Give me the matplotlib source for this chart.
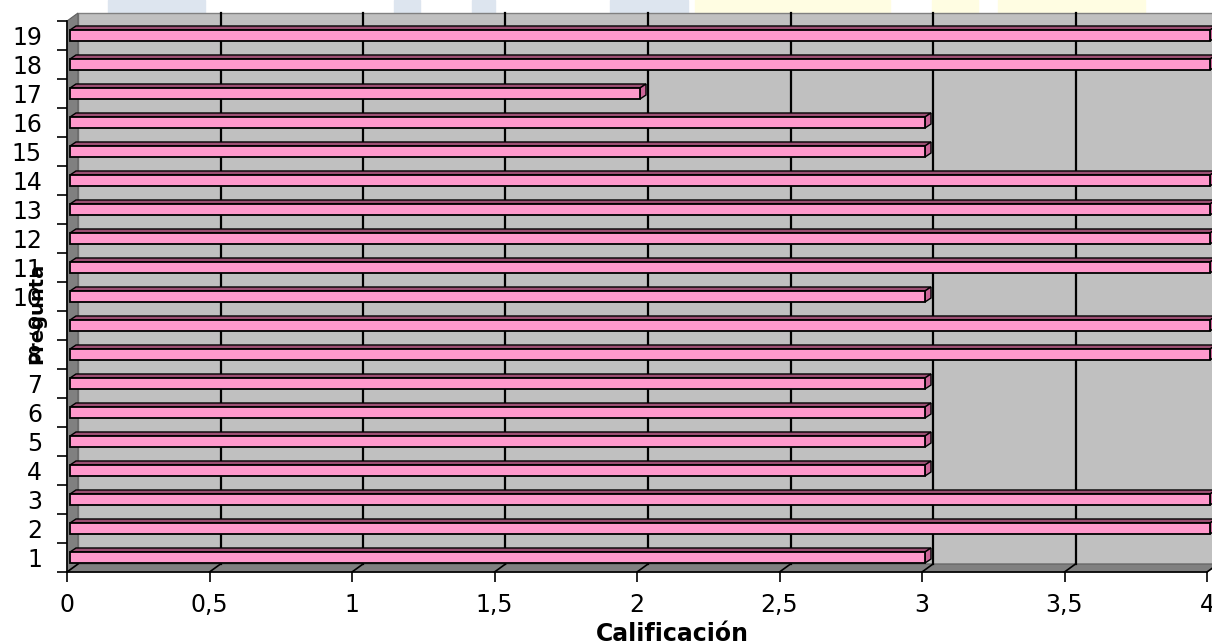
import matplotlib.pyplot as plt
from matplotlib.patches import Polygon, Rectangle

# Calificación por pregunta
preguntas = list(range(1, 20))
calificacion = [3, 4, 4, 3, 3, 3, 3, 4, 4, 3, 4, 4, 4, 4, 3, 3, 2, 4, 4]
x_ticks = [0, 0.5, 1, 1.5, 2, 2.5, 3, 3.5, 4]
x_labels = ["0", "0,5", "1", "1,5", "2", "2,5", "3", "3,5", "4"]

fig = plt.figure(figsize=(12.12, 6.44), dpi=100)

# faint letters of the background logo, only the top strip shows
for xs, col in [((108, 205), "#dde5ef"), ((394, 420), "#dde5ef"), ((472, 495), "#dde5ef"),
                ((610, 688), "#dde5ef"), ((695, 890), "#fffde2"), ((932, 978), "#fffde2"),
                ((998, 1145), "#fffde2")]:
    fig.patches.append(Rectangle((xs[0] / 1212, 0.9), (xs[1] - xs[0]) / 1212, 0.1,
                                 transform=fig.transFigure, color=col, zorder=-5))

W, H = 1140, 551
ax = fig.add_axes([67 / 1212, 72 / 644, W / 1212, H / 644])
ax.set_xlim(0, 4)
ax.set_ylim(0.5, 19.5)
ax.patch.set_visible(False)

# pixel -> data units
ux = 4 / W
uy = 19 / H
wx, wy = 11 * ux, 8 * uy      # depth of the walls
bx, by = 6 * ux, 4 * uy       # depth of the bars
sx = 3 * ux                   # bars start a bit inside the wall

# back wall, side wall and floor
ax.add_patch(Rectangle((wx, 0.5 + wy), 4, 19, facecolor="#c0c0c0", edgecolor="#808080",
                       lw=1, zorder=0, clip_on=False))
ax.add_patch(Polygon([(0, 0.5), (0, 19.5), (wx, 19.5 + wy), (wx, 0.5 + wy)],
                     facecolor="#808080", edgecolor="#606060", lw=0.8, zorder=1, clip_on=False))
ax.add_patch(Polygon([(0, 0.5), (4, 0.5), (4 + wx, 0.5 + wy), (wx, 0.5 + wy)],
                     facecolor="#808080", edgecolor="#606060", lw=0.8, zorder=1, clip_on=False))

# gridlines on the wall and their diagonals on the floor
for g in x_ticks:
    if 0 < g < 4:
        ax.plot([g + wx, g + wx], [0.5 + wy, 19.5 + wy], color="black", lw=1.6,
                zorder=2, clip_on=False)
    ax.plot([g, g + wx], [0.5, 0.5 + wy], color="black", lw=1.2, zorder=2, clip_on=False)

# bars: front face + top + side
h = 0.38
ax.barh(preguntas, calificacion, height=h, left=sx, color="#ff99cc", edgecolor="black",
        lw=1.3, zorder=5, clip_on=False)
for y, v in zip(preguntas, calificacion):
    top = [(sx, y + h / 2), (sx + v, y + h / 2), (sx + v + bx, y + h / 2 + by), (sx + bx, y + h / 2 + by)]
    side = [(sx + v, y - h / 2), (sx + v + bx, y - h / 2 + by), (sx + v + bx, y + h / 2 + by), (sx + v, y + h / 2)]
    ax.add_patch(Polygon(top, facecolor="#9c4f73", edgecolor="black", lw=1, zorder=4, clip_on=False))
    ax.add_patch(Polygon(side, facecolor="#cc6699", edgecolor="black", lw=1, zorder=4, clip_on=False))

# axes
for s in ["top", "right"]:
    ax.spines[s].set_visible(False)
for s in ["left", "bottom"]:
    ax.spines[s].set_color("black")
    ax.spines[s].set_linewidth(1.2)
    ax.spines[s].set_zorder(6)

ax.set_xticks(x_ticks)
ax.set_xticklabels(x_labels, fontsize=17, family="DejaVu Sans")
ax.tick_params(axis="x", length=7, width=1.2, pad=8)

ax.set_yticks([p + 0.5 for p in [0] + preguntas])
ax.set_yticklabels([])
ax.set_yticks(preguntas, minor=True)
ax.set_yticklabels([str(p) for p in preguntas], minor=True, fontsize=17, family="DejaVu Sans")
ax.tick_params(axis="y", which="major", length=7, width=1.2)
ax.tick_params(axis="y", which="minor", length=0, pad=18)

fig.text(37 / 1212, 1 - 313 / 644, "Pregunta", rotation=90, ha="center", va="center",
         fontsize=14, fontweight="bold", family="DejaVu Sans")
fig.text(672 / 1212, 1 - 634 / 644, "Calificación", ha="center", va="center",
         fontsize=17, fontweight="bold", family="DejaVu Sans")

fig.savefig("out.png", dpi=100)
